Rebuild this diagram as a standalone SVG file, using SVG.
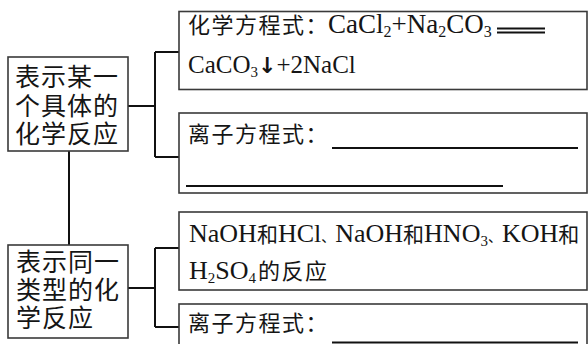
<svg xmlns="http://www.w3.org/2000/svg" width="588" height="344" viewBox="0 0 588 344">
<style>
.box{fill:#fff;stroke:#3a3a3a;stroke-width:1.6}
.conn{stroke:#111;stroke-width:2;fill:none}
.rule{stroke:#111;stroke-width:2;fill:none}
text{fill:#151515}
.big{font-family:"Noto Sans CJK SC",sans-serif;font-size:25px;letter-spacing:1px}
.cjk{font-family:"Noto Sans CJK SC",sans-serif;font-size:22px;letter-spacing:1.5px}
.lat{font-family:"Liberation Serif","Noto Sans CJK SC",serif;font-size:25px}
.sub{font-size:15px}
.arr{font-family:"DejaVu Sans",sans-serif;font-weight:bold;font-size:22px}
.c2{font-family:"Noto Sans CJK SC",sans-serif;font-size:21px}
.dun{font-family:"Noto Sans CJK SC",sans-serif;font-size:14px}
</style>
<g id="connectors">
<path class="conn" d="M128,106H155M155,52V157M155,52H179M155,157H179"/>
<path class="conn" d="M69,151V245"/>
<path class="conn" d="M128,288H155M155,248V327M155,248H179M155,327H179"/>
</g>
<g id="node-specific">
<rect class="box" x="8" y="57" width="120" height="94"/>
<text class="big" y="86"><tspan x="15">表示某一</tspan><tspan x="15" dy="29">个具体的</tspan><tspan x="15" dy="28">化学反应</tspan></text>
</g>
<g id="node-type">
<rect class="box" x="8" y="245" width="120" height="93"/>
<text class="big" y="271"><tspan x="16">表示同一</tspan><tspan x="16" dy="28">类型的化</tspan><tspan x="16" dy="28">学反应</tspan></text>
</g>
<g id="node-chem-eq">
<rect class="box" x="179" y="11.5" width="408" height="78"/>
<text class="cjk" x="188" y="33">化学方程式：</text>
<text class="lat" x="328" y="33" style="font-size:27px">CaCl<tspan class="sub" style="font-size:16px" dy="4">2</tspan><tspan dy="-4">+Na</tspan><tspan class="sub" style="font-size:16px" dy="4">2</tspan><tspan dy="-4">CO</tspan><tspan class="sub" style="font-size:16px" dy="4">3</tspan></text>
<path class="rule" d="M497,28.5H545M497,32.5H545"/>
<text class="lat" x="188" y="73">CaCO<tspan class="sub" dy="4">3</tspan><tspan class="arr" dy="-4">↓</tspan>+2NaCl</text>
</g>
<g id="node-ion-eq-1">
<rect class="box" x="179" y="113" width="408" height="80"/>
<text class="cjk" x="188" y="142">离子方程式：</text>
<path class="rule" d="M332,148H578M186,186H503"/>
</g>
<g id="node-reactions">
<rect class="box" x="179" y="212" width="408" height="78"/>
<text class="lat" x="189" y="242" style="font-size:26px">NaOH<tspan class="c2">和</tspan>HCl<tspan class="dun">、</tspan>NaOH<tspan class="c2">和</tspan>HNO<tspan class="sub" dy="4">3</tspan><tspan class="dun" dy="-4">、</tspan>KOH<tspan class="c2">和</tspan></text>
<text class="lat" x="189" y="279" style="font-size:26px">H<tspan class="sub" dy="4">2</tspan><tspan dy="-4">SO</tspan><tspan class="sub" dy="4">4</tspan><tspan class="cjk" dy="-4" dx="2">的反应</tspan></text>
</g>
<g id="node-ion-eq-2">
<rect class="box" x="179" y="304" width="408" height="60"/>
<text class="cjk" x="188" y="331">离子方程式：</text>
<path class="rule" d="M332,342.5H578"/>
</g>
</svg>
